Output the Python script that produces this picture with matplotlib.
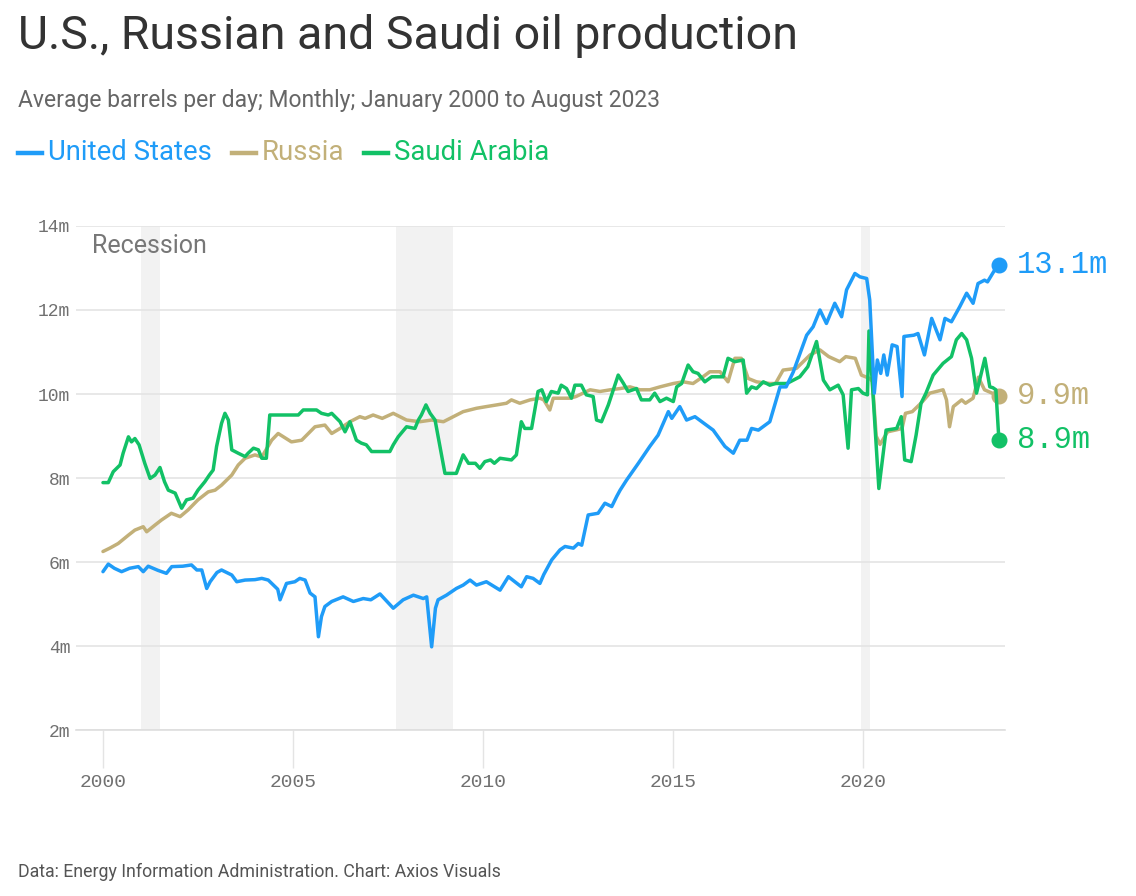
import matplotlib
matplotlib.use("Agg")
import matplotlib.pyplot as plt
from matplotlib.lines import Line2D

# ---------------- data (decimal year, million barrels per day) ----------------
us_t = [2000.00, 2000.14, 2000.30, 2000.49, 2000.70, 2000.93, 2001.06, 2001.19, 2001.45, 2001.67,
        2001.81, 2002.10, 2002.33, 2002.47, 2002.60, 2002.73, 2002.82, 2003.00, 2003.12, 2003.39,
        2003.52, 2003.74, 2004.00, 2004.18, 2004.35, 2004.44, 2004.60, 2004.66, 2004.83, 2005.05,
        2005.18, 2005.32, 2005.45, 2005.58, 2005.67, 2005.75, 2005.84, 2006.02, 2006.32, 2006.59,
        2006.85, 2007.05, 2007.29, 2007.64, 2007.90, 2008.17, 2008.43, 2008.52, 2008.65, 2008.75,
        2008.82, 2009.04, 2009.30, 2009.48, 2009.66, 2009.83, 2010.09, 2010.45, 2010.67, 2011.01,
        2011.15, 2011.32, 2011.50, 2011.60, 2011.81, 2012.03, 2012.16, 2012.38, 2012.51, 2012.60,
        2012.77, 2013.03, 2013.21, 2013.39, 2013.52, 2013.61, 2013.78, 2014.09, 2014.39, 2014.61,
        2014.88, 2014.97, 2015.18, 2015.36, 2015.58, 2016.06, 2016.37, 2016.59, 2016.76, 2016.95,
        2017.07, 2017.25, 2017.55, 2017.82, 2017.98, 2018.17, 2018.52, 2018.69, 2018.87, 2019.04,
        2019.26, 2019.44, 2019.57, 2019.79, 2019.92, 2020.10, 2020.18, 2020.30, 2020.38, 2020.47,
        2020.55, 2020.64, 2020.77, 2020.90, 2021.03, 2021.08, 2021.34, 2021.45, 2021.62, 2021.81,
        2022.03, 2022.16, 2022.33, 2022.55, 2022.73, 2022.90, 2023.03, 2023.20, 2023.28, 2023.50,
        2023.58]
us_v = [5.77, 5.95, 5.85, 5.77, 5.85, 5.89, 5.77, 5.90, 5.80, 5.73,
        5.89, 5.90, 5.93, 5.81, 5.81, 5.37, 5.53, 5.75, 5.81, 5.69,
        5.53, 5.57, 5.58, 5.61, 5.57, 5.49, 5.35, 5.10, 5.49, 5.53,
        5.61, 5.57, 5.26, 5.17, 4.22, 4.70, 4.94, 5.06, 5.17, 5.06,
        5.13, 5.10, 5.24, 4.90, 5.10, 5.21, 5.13, 5.17, 3.98, 4.90,
        5.10, 5.21, 5.37, 5.45, 5.57, 5.45, 5.53, 5.33, 5.65, 5.41,
        5.65, 5.61, 5.49, 5.70, 6.05, 6.29, 6.37, 6.33, 6.44, 6.40,
        7.12, 7.16, 7.40, 7.32, 7.56, 7.71, 7.95, 8.35, 8.75, 9.02,
        9.58, 9.42, 9.70, 9.38, 9.46, 9.14, 8.75, 8.59, 8.90, 8.90,
        9.18, 9.14, 9.34, 10.17, 10.17, 10.53, 11.40, 11.60, 12.00, 11.68,
        12.16, 11.84, 12.48, 12.87, 12.79, 12.75, 12.24, 10.02, 10.81, 10.49,
        10.93, 10.45, 11.17, 11.13, 9.94, 11.37, 11.40, 11.44, 10.93, 11.80,
        11.29, 11.80, 11.72, 12.08, 12.40, 12.16, 12.63, 12.71, 12.67, 13.00,
        13.07]

ru_t = [2000.00, 2000.18, 2000.40, 2000.67, 2000.84, 2001.06, 2001.15, 2001.37, 2001.54, 2001.80,
        2002.03, 2002.24, 2002.50, 2002.77, 2002.95, 2003.12, 2003.39, 2003.56, 2003.74, 2004.00,
        2004.18, 2004.44, 2004.61, 2004.96, 2005.23, 2005.58, 2005.84, 2006.02, 2006.24, 2006.50,
        2006.76, 2006.90, 2007.11, 2007.35, 2007.64, 2007.99, 2008.34, 2008.65, 2008.96, 2009.22,
        2009.48, 2009.83, 2010.09, 2010.36, 2010.62, 2010.75, 2010.97, 2011.24, 2011.50, 2011.60,
        2011.76, 2011.85, 2012.29, 2012.45, 2012.82, 2013.08, 2013.35, 2013.61, 2013.87, 2014.13,
        2014.39, 2014.66, 2015.01, 2015.27, 2015.53, 2015.79, 2015.97, 2016.24, 2016.45, 2016.63,
        2016.80, 2016.98, 2017.20, 2017.55, 2017.70, 2017.90, 2018.25, 2018.61, 2018.87, 2019.10,
        2019.39, 2019.55, 2019.80, 2019.96, 2020.18, 2020.25, 2020.35, 2020.45, 2020.65, 2020.90,
        2021.03, 2021.12, 2021.30, 2021.55, 2021.76, 2022.11, 2022.20, 2022.28, 2022.38, 2022.60,
        2022.70, 2022.90, 2023.04, 2023.20, 2023.58]
ru_v = [6.25, 6.33, 6.44, 6.64, 6.76, 6.84, 6.72, 6.88, 7.00, 7.16,
        7.08, 7.24, 7.48, 7.67, 7.71, 7.83, 8.07, 8.31, 8.47, 8.55,
        8.50, 8.90, 9.06, 8.86, 8.90, 9.22, 9.26, 9.06, 9.18, 9.34,
        9.46, 9.42, 9.50, 9.42, 9.54, 9.38, 9.34, 9.38, 9.34, 9.46,
        9.58, 9.66, 9.70, 9.74, 9.78, 9.86, 9.78, 9.86, 9.90, 9.86,
        9.62, 9.90, 9.90, 9.94, 10.10, 10.06, 10.10, 10.13, 10.17, 10.10,
        10.10, 10.17, 10.25, 10.29, 10.25, 10.41, 10.53, 10.53, 10.29, 10.85,
        10.85, 10.37, 10.29, 10.25, 10.25, 10.57, 10.61, 10.93, 11.05, 10.89,
        10.77, 10.89, 10.85, 10.45, 10.37, 10.30, 9.00, 8.80, 9.10, 9.15,
        9.18, 9.54, 9.58, 9.80, 10.02, 10.10, 9.86, 9.22, 9.70, 9.86,
        9.78, 9.90, 10.40, 10.10, 9.95]

sa_t = [2000.00, 2000.14, 2000.27, 2000.45, 2000.53, 2000.67, 2000.75, 2000.84, 2000.95, 2001.10,
        2001.24, 2001.37, 2001.50, 2001.62, 2001.72, 2001.90, 2002.07, 2002.20, 2002.37, 2002.50,
        2002.68, 2002.80, 2002.90, 2002.99, 2003.12, 2003.21, 2003.30, 2003.39, 2003.56, 2003.74,
        2003.82, 2003.96, 2004.09, 2004.18, 2004.30, 2004.39, 2005.14, 2005.27, 2005.62, 2005.75,
        2005.93, 2006.02, 2006.24, 2006.37, 2006.50, 2006.67, 2006.80, 2006.93, 2007.07, 2007.55,
        2007.64, 2007.77, 2007.99, 2008.21, 2008.30, 2008.38, 2008.50, 2008.61, 2008.74, 2009.00,
        2009.30, 2009.48, 2009.62, 2009.80, 2009.92, 2010.05, 2010.20, 2010.30, 2010.45, 2010.75,
        2010.88, 2011.01, 2011.10, 2011.28, 2011.45, 2011.55, 2011.67, 2011.80, 2011.98, 2012.06,
        2012.20, 2012.33, 2012.42, 2012.59, 2012.72, 2012.90, 2012.99, 2013.12, 2013.30, 2013.56,
        2013.70, 2013.82, 2014.04, 2014.17, 2014.39, 2014.52, 2014.66, 2014.83, 2015.01, 2015.10,
        2015.23, 2015.40, 2015.53, 2015.66, 2015.84, 2016.02, 2016.32, 2016.45, 2016.63, 2016.85,
        2016.94, 2017.07, 2017.20, 2017.38, 2017.55, 2017.70, 2018.00, 2018.34, 2018.55, 2018.78,
        2018.96, 2019.13, 2019.35, 2019.48, 2019.61, 2019.70, 2019.88, 2020.00, 2020.12, 2020.16,
        2020.27, 2020.42, 2020.61, 2020.89, 2021.01, 2021.10, 2021.27, 2021.40, 2021.53, 2021.66,
        2021.85, 2022.11, 2022.33, 2022.46, 2022.60, 2022.73, 2022.86, 2022.99, 2023.21, 2023.34,
        2023.42, 2023.50, 2023.58]
sa_v = [7.89, 7.89, 8.15, 8.31, 8.59, 8.98, 8.86, 8.94, 8.79, 8.35,
        7.99, 8.07, 8.25, 7.91, 7.71, 7.64, 7.28, 7.48, 7.52, 7.71,
        7.91, 8.07, 8.19, 8.75, 9.30, 9.54, 9.38, 8.67, 8.59, 8.51,
        8.59, 8.71, 8.67, 8.47, 8.47, 9.50, 9.50, 9.62, 9.62, 9.54,
        9.50, 9.54, 9.34, 9.10, 9.34, 8.90, 8.83, 8.79, 8.63, 8.63,
        8.79, 8.98, 9.22, 9.18, 9.38, 9.50, 9.74, 9.54, 9.38, 8.11,
        8.11, 8.55, 8.35, 8.35, 8.23, 8.39, 8.43, 8.35, 8.47, 8.43,
        8.55, 9.34, 9.18, 9.18, 10.06, 10.10, 9.82, 10.06, 10.02, 10.21,
        10.13, 9.90, 10.21, 10.21, 9.98, 9.94, 9.38, 9.34, 9.74, 10.45,
        10.25, 10.06, 10.13, 9.86, 9.86, 10.02, 9.82, 9.90, 9.82, 10.17,
        10.25, 10.69, 10.53, 10.49, 10.29, 10.41, 10.41, 10.85, 10.77, 10.81,
        10.02, 10.17, 10.13, 10.29, 10.21, 10.25, 10.25, 10.41, 10.65, 11.25,
        10.33, 10.10, 10.21, 9.98, 8.71, 10.10, 10.13, 10.02, 9.98, 11.50,
        9.94, 7.75, 9.14, 9.18, 9.46, 8.43, 8.39, 9.02, 9.78, 10.02,
        10.45, 10.73, 10.89, 11.29, 11.44, 11.29, 10.85, 10.02, 10.85, 10.17,
        10.15, 10.10, 8.90]

series_names = ["United States", "Russia", "Saudi Arabia"]
series_colors = ["#1f9cf8", "#c2b079", "#12c166"]
end_labels = ["13.1m", "9.9m", "8.9m"]
recessions = [(2001.0, 2001.5), (2007.72, 2009.2), (2019.95, 2020.18)]
y_ticks = [2, 4, 6, 8, 10, 12, 14]
y_tick_labels = ["2m", "4m", "6m", "8m", "10m", "12m", "14m"]
x_ticks = [2000, 2005, 2010, 2015, 2020]
x_tick_labels = ["2000", "2005", "2010", "2015", "2020"]

title = "U.S., Russian and Saudi oil production"
subtitle = "Average barrels per day; Monthly; January 2000 to August 2023"
footnote = "Data: Energy Information Administration. Chart: Axios Visuals"

# ---------------- figure ----------------
W, H = 1136, 896
fig = plt.figure(figsize=(W / 100, H / 100), dpi=100)
fig.patch.set_facecolor("white")


def fx(x):
    return x / W


def fy(y):
    return 1 - y / H


SANS = ["Roboto", "DejaVu Sans"]
MONO = ["Liberation Mono", "DejaVu Sans Mono"]

ax = fig.add_axes([fx(76), fy(730), fx(1005) - fx(76), fy(226) - fy(730)])
ax.set_xlim(1999.29, 2023.74)
ax.set_ylim(2, 14)

for a, b in recessions:
    ax.axvspan(a, b, color="#f2f2f2", lw=0, zorder=0)

ax.set_yticks(y_ticks)
ax.set_yticklabels(y_tick_labels, family=MONO, fontsize=13, color="#707070")
ax.set_xticks(x_ticks)
ax.set_xticklabels(x_tick_labels, family=MONO, fontsize=14, color="#707070")
ax.grid(axis="y", color="#e4e4e4", lw=1.2, zorder=1)
ax.tick_params(axis="y", length=0, pad=4)
ax.tick_params(axis="x", length=27, width=1, color="#e4e4e4", pad=5)
for s in ["top", "right", "left"]:
    ax.spines[s].set_visible(False)
ax.spines["bottom"].set_color("#dedede")
ax.spines["bottom"].set_linewidth(1.2)
ax.set_axisbelow(True)

data = [(us_t, us_v), (ru_t, ru_v), (sa_t, sa_v)]
zorders = [5, 3, 4]
for (t, v), c, z, lab in zip(data, series_colors, zorders, end_labels):
    ax.plot(t, v, color=c, lw=2.5, solid_joinstyle="round", solid_capstyle="round", zorder=z)
    ax.plot([t[-1]], [v[-1]], "o", ms=10.5, color=c, zorder=z + 1, clip_on=False)
    ax.annotate(lab, (t[-1], v[-1]), xytext=(13, 0), textcoords="offset points",
                va="center", ha="left", family=MONO, fontsize=22, color=c,
                annotation_clip=False)

fig.text(fx(92), fy(246), "Recession", family=SANS, fontsize=18, color="#777777",
         va="center", ha="left")

# ---------------- titles ----------------
fig.text(fx(18), fy(36), title, family=SANS, fontsize=33.5, color="#333333", va="center", ha="left")
fig.text(fx(18), fy(101), subtitle, family=SANS, fontsize=16.5, color="#666666", va="center", ha="left")
fig.text(fx(18), fy(872), footnote, family=SANS, fontsize=12.8, color="#555555", va="center", ha="left")

# legend drawn as coloured dash + label
fig.canvas.draw()
renderer = fig.canvas.get_renderer()
x = 18
ly = 153
for name, c in zip(series_names, series_colors):
    fig.add_artist(Line2D([fx(x), fx(x + 24)], [fy(ly), fy(ly)], color=c, lw=3.2,
                          transform=fig.transFigure))
    txt = fig.text(fx(x + 30), fy(ly), name, family=SANS, fontsize=19.8, color=c,
                   va="center", ha="left")
    bb = txt.get_window_extent(renderer)
    x = bb.x1 + 20

fig.savefig("out.png", dpi=100, facecolor="white")
